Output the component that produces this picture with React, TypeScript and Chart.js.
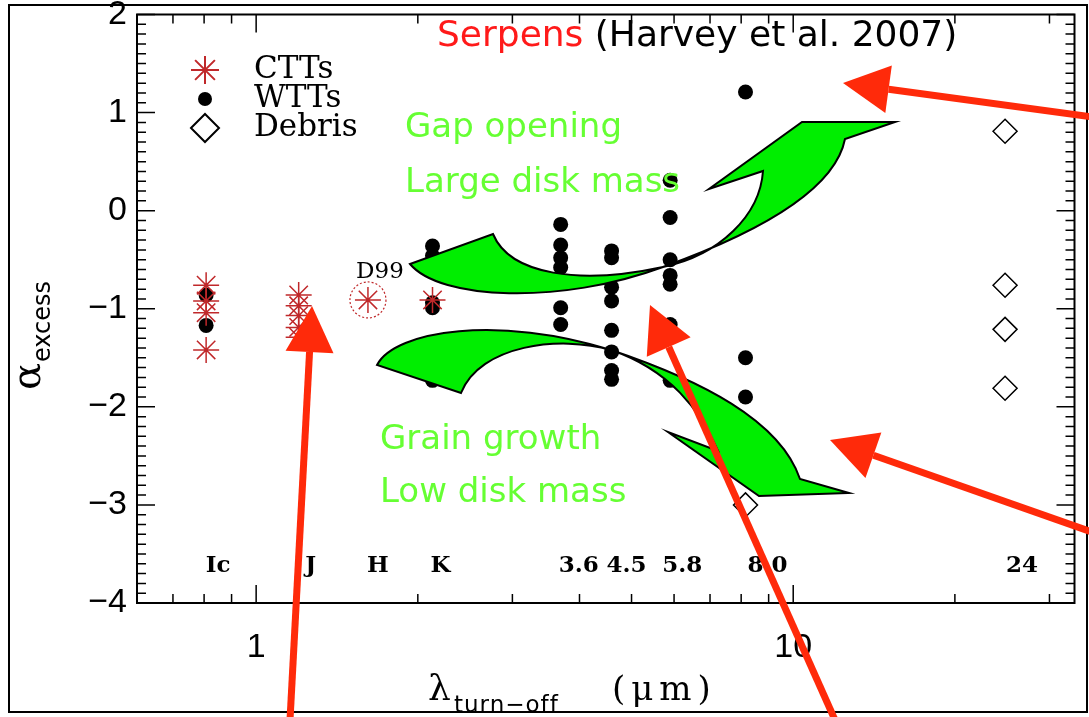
import React, { useEffect, useRef } from "react";
import { Chart, registerables } from "chart.js";
Chart.register(...registerables);

const bandNames = ["Ic", "J", "H", "K", "3.6", "4.5", "5.8", "8.0", "24"];
const bandWavelengths = [0.807, 1.2, 1.615, 2.13, 3.69, 4.59, 5.9, 8.15, 24.8];
const cttX = [0.807, 0.807, 0.807, 0.807, 1.2, 1.2, 1.2, 1.2, 1.2, 1.615, 2.13];
const cttY = [-0.76, -0.92, -1.04, -1.42, -0.86, -0.97, -1.07, -1.19, -1.29, -0.91, -0.91];
const wttX = [0.807, 0.807, 2.13, 2.13, 2.13, 2.13, 2.13, 3.69, 3.69, 3.69, 3.69, 3.69, 3.69, 4.59, 4.59, 4.59, 4.59, 4.59, 4.59, 4.59, 4.59, 5.9, 5.9, 5.9, 5.9, 5.9, 5.9, 5.9, 8.15, 8.15, 8.15];
const wttY = [-0.86, -1.17, -0.36, -0.46, -0.94, -0.99, -1.73, -0.14, -0.35, -0.48, -0.58, -0.99, -1.16, -0.41, -0.48, -0.78, -0.92, -1.22, -1.44, -1.63, -1.72, 0.31, -0.07, -0.5, -0.66, -0.75, -1.16, -1.73, 1.21, -1.5, -1.9];
const debrisX = [8.15, 8.15, 24.8, 24.8, 24.8, 24.8];
const debrisY = [-2.65, -3.0, 0.81, -0.76, -1.21, -1.81];
const yTicks = [2, 1, 0, -1, -2, -3, -4];
const xTickLabels = [1, 10];

const pts = (xs: number[], ys: number[]) => xs.map((x, i) => ({ x, y: ys[i] }));

export default function App() {
  const ref = useRef<HTMLCanvasElement>(null);
  useEffect(() => {
    document.body.style.margin = "0";
    const deco = {
      id: "deco",
      afterDraw(c: any) {
        const ctx = c.ctx;
        const xs = c.scales.x, ys = c.scales.y;
        const a = c.chartArea;
        ctx.save();
        ctx.strokeStyle = "#000";
        ctx.lineWidth = 2;
        ctx.strokeRect(9, 5, 1078, 707);
        ctx.strokeRect(a.left, a.top, a.right - a.left, a.bottom - a.top);
        ctx.lineWidth = 1.5;
        for (let v = -40; v <= 20; v++) {
          const y = ys.getPixelForValue(v / 10);
          const L = v % 10 === 0 ? 18 : 9;
          ctx.beginPath();
          ctx.moveTo(a.left, y); ctx.lineTo(a.left + L, y);
          ctx.moveTo(a.right, y); ctx.lineTo(a.right - L, y);
          ctx.stroke();
        }
        for (let d = -1; d <= 1; d++) {
          for (let m = 1; m <= 9; m++) {
            const v = m * Math.pow(10, d);
            if (v < xs.min || v > xs.max) continue;
            const x = xs.getPixelForValue(v);
            const L = m === 1 ? 18 : 9;
            ctx.beginPath();
            ctx.moveTo(x, a.bottom); ctx.lineTo(x, a.bottom - L);
            ctx.moveTo(x, a.top); ctx.lineTo(x, a.top + L);
            ctx.stroke();
          }
        }
        ctx.fillStyle = "#000";
        ctx.font = "34px 'Liberation Sans'";
        ctx.textAlign = "right"; ctx.textBaseline = "middle";
        yTicks.forEach((t) => ctx.fillText(t < 0 ? "\u2212" + Math.abs(t) : String(t), a.left - 10, ys.getPixelForValue(t)));
        ctx.textAlign = "center"; ctx.textBaseline = "top";
        xTickLabels.forEach((t) => ctx.fillText(String(t), xs.getPixelForValue(t), a.bottom + 28));
        ctx.font = "bold 23px 'DejaVu Serif'";
        ctx.textBaseline = "middle";
        bandNames.forEach((n, i) => ctx.fillText(n === "8.0" ? "8 0" : n, xs.getPixelForValue(bandWavelengths[i]) + (i === 7 ? 22 : i === 0 ? 12 : i === 1 ? 12 : i === 2 ? 10 : i === 3 ? 8 : i === 4 ? 18 : i === 5 ? 15 : i === 6 ? 12 : 17), ys.getPixelForValue(-3.62)));
        ctx.font = "23px 'DejaVu Serif'";
        ctx.fillText("D99", xs.getPixelForValue(1.615) + 12, ys.getPixelForValue(-0.63));
        ctx.strokeStyle = "#c0282a"; ctx.lineWidth = 1.2; ctx.setLineDash([2, 2]);
        ctx.beginPath();
        ctx.arc(xs.getPixelForValue(1.615), ys.getPixelForValue(-0.91), 18, 0, Math.PI * 2);
        ctx.stroke(); ctx.setLineDash([]);
        // legend
        const lx = 205;
        ctx.font = "31px 'DejaVu Serif'"; ctx.textAlign = "left";
        ctx.strokeStyle = "#c0282a"; ctx.lineWidth = 2;
        ctx.beginPath();
        for (let k = 0; k < 4; k++) {
          const ang = (k * Math.PI) / 4;
          ctx.moveTo(lx - 14 * Math.cos(ang), 70 - 14 * Math.sin(ang));
          ctx.lineTo(lx + 14 * Math.cos(ang), 70 + 14 * Math.sin(ang));
        }
        ctx.stroke();
        ctx.beginPath(); ctx.arc(lx, 99, 7, 0, Math.PI * 2); ctx.fill();
        ctx.strokeStyle = "#000"; ctx.beginPath();
        ctx.moveTo(lx - 14, 128); ctx.lineTo(lx, 114); ctx.lineTo(lx + 14, 128); ctx.lineTo(lx, 142); ctx.closePath(); ctx.stroke();
        ctx.fillText("CTTs", 254, 70); ctx.fillText("WTTs", 254, 99); ctx.fillText("Debris", 254, 128);
        // axis titles
        ctx.save();
        ctx.translate(40, 310); ctx.rotate(-Math.PI / 2);
        ctx.font = "40px 'DejaVu Serif'"; ctx.textAlign = "left"; ctx.textBaseline = "alphabetic";
        ctx.fillText("\u03b1", -80, 0);
        ctx.font = "24px 'DejaVu Sans'"; ctx.fillText("excess", -52, 10);
        ctx.restore();
        ctx.textBaseline = "alphabetic";
        ctx.font = "36px 'DejaVu Serif'"; ctx.fillText("\u03bb", 428, 700);
        ctx.font = "23px 'DejaVu Sans'"; (ctx as any).letterSpacing = "1px"; ctx.fillText("turn\u2212off", 454, 712);
        (ctx as any).letterSpacing = "6px";
        ctx.font = "34px 'DejaVu Serif'"; ctx.fillText("(\u03bcm)", 612, 700);
        (ctx as any).letterSpacing = "0px";
        // title
        ctx.font = "36px 'DejaVu Sans'";
        ctx.fillStyle = "#ff1a1a"; ctx.fillText("Serpens", 437, 46);
        const w = ctx.measureText("Serpens ").width;
        ctx.fillStyle = "#000"; ctx.fillText("(Harvey et al. 2007)", 437 + w, 46);
        // green arrows
        ctx.fillStyle = "#00ee00"; ctx.strokeStyle = "#000"; ctx.lineWidth = 2;
        ctx.beginPath();
        ctx.moveTo(410, 264);
        ctx.bezierCurveTo(440, 300, 560, 305, 663, 267);
        ctx.bezierCurveTo(760, 232, 835, 190, 845, 139);
        ctx.lineTo(895, 122); ctx.lineTo(802, 122); ctx.lineTo(709, 189); ctx.lineTo(763, 171);
        ctx.bezierCurveTo(760, 215, 720, 255, 663, 267);
        ctx.bezierCurveTo(580, 285, 510, 275, 493, 234);
        ctx.closePath(); ctx.fill(); ctx.stroke();
        ctx.beginPath();
        ctx.moveTo(377, 365);
        ctx.bezierCurveTo(395, 330, 500, 315, 611, 350);
        ctx.bezierCurveTo(700, 380, 780, 420, 800, 479);
        ctx.lineTo(849, 493); ctx.lineTo(759, 496); ctx.lineTo(668, 432); ctx.lineTo(718, 451);
        ctx.bezierCurveTo(700, 410, 670, 370, 611, 350);
        ctx.bezierCurveTo(560, 335, 480, 345, 461, 393);
        ctx.closePath(); ctx.fill(); ctx.stroke();
        // green texts
        ctx.fillStyle = "#66ff33"; ctx.font = "34px 'DejaVu Sans'";
        ctx.fillText("Gap opening", 405, 137);
        ctx.fillText("Large disk mass", 405, 192);
        ctx.fillText("Grain growth", 380, 449);
        ctx.fillText("Low disk mass", 380, 502);
        const arrow = (x0: number, y0: number, x1: number, y1: number) => {
          const ang = Math.atan2(y1 - y0, x1 - x0);
          const hl = 46, hw = 24;
          const bx = x1 - hl * Math.cos(ang), by = y1 - hl * Math.sin(ang);
          ctx.strokeStyle = "#ff2a0a"; ctx.fillStyle = "#ff2a0a"; ctx.lineWidth = 7;
          ctx.beginPath(); ctx.moveTo(x0, y0); ctx.lineTo(bx, by); ctx.stroke();
          ctx.beginPath();
          ctx.moveTo(x1, y1);
          ctx.lineTo(bx + hw * Math.sin(ang), by - hw * Math.cos(ang));
          ctx.lineTo(bx - hw * Math.sin(ang), by + hw * Math.cos(ang));
          ctx.closePath(); ctx.fill();
        };
        arrow(290, 720, 312, 306);
        arrow(835, 720, 650, 305);
        arrow(1092, 117, 843, 83);
        arrow(1092, 532, 830, 440);
        ctx.restore();
      },
    };
    const chart = new Chart(ref.current!, {
      type: "scatter",
      data: {
        datasets: [
          { data: pts(cttX, cttY), pointStyle: "star", radius: 13, borderColor: "#c0282a", borderWidth: 1.5, backgroundColor: "transparent" },
          { data: pts(wttX, wttY), pointStyle: "circle", radius: 7.5, backgroundColor: "#000", borderColor: "#000", borderWidth: 0 },
          { data: pts(debrisX, debrisY), pointStyle: "rectRot", radius: 12, backgroundColor: "#fff", borderColor: "#000", borderWidth: 1.5 },
        ],
      },
      options: {
        animation: false,
        responsive: false,
        devicePixelRatio: 1,
        layout: { padding: { left: 137, top: 8, right: 4, bottom: 114 } },
        plugins: { legend: { display: false }, tooltip: { enabled: false } },
        scales: {
          x: { type: "logarithmic", min: 0.604, max: 33.4, display: false },
          y: { type: "linear", min: -4, max: 2, display: false },
        },
      },
      plugins: [deco],
    } as any);
    return () => chart.destroy();
  }, []);
  return <canvas ref={ref} width={1089} height={717} style={{ display: "block" }} />;
}
